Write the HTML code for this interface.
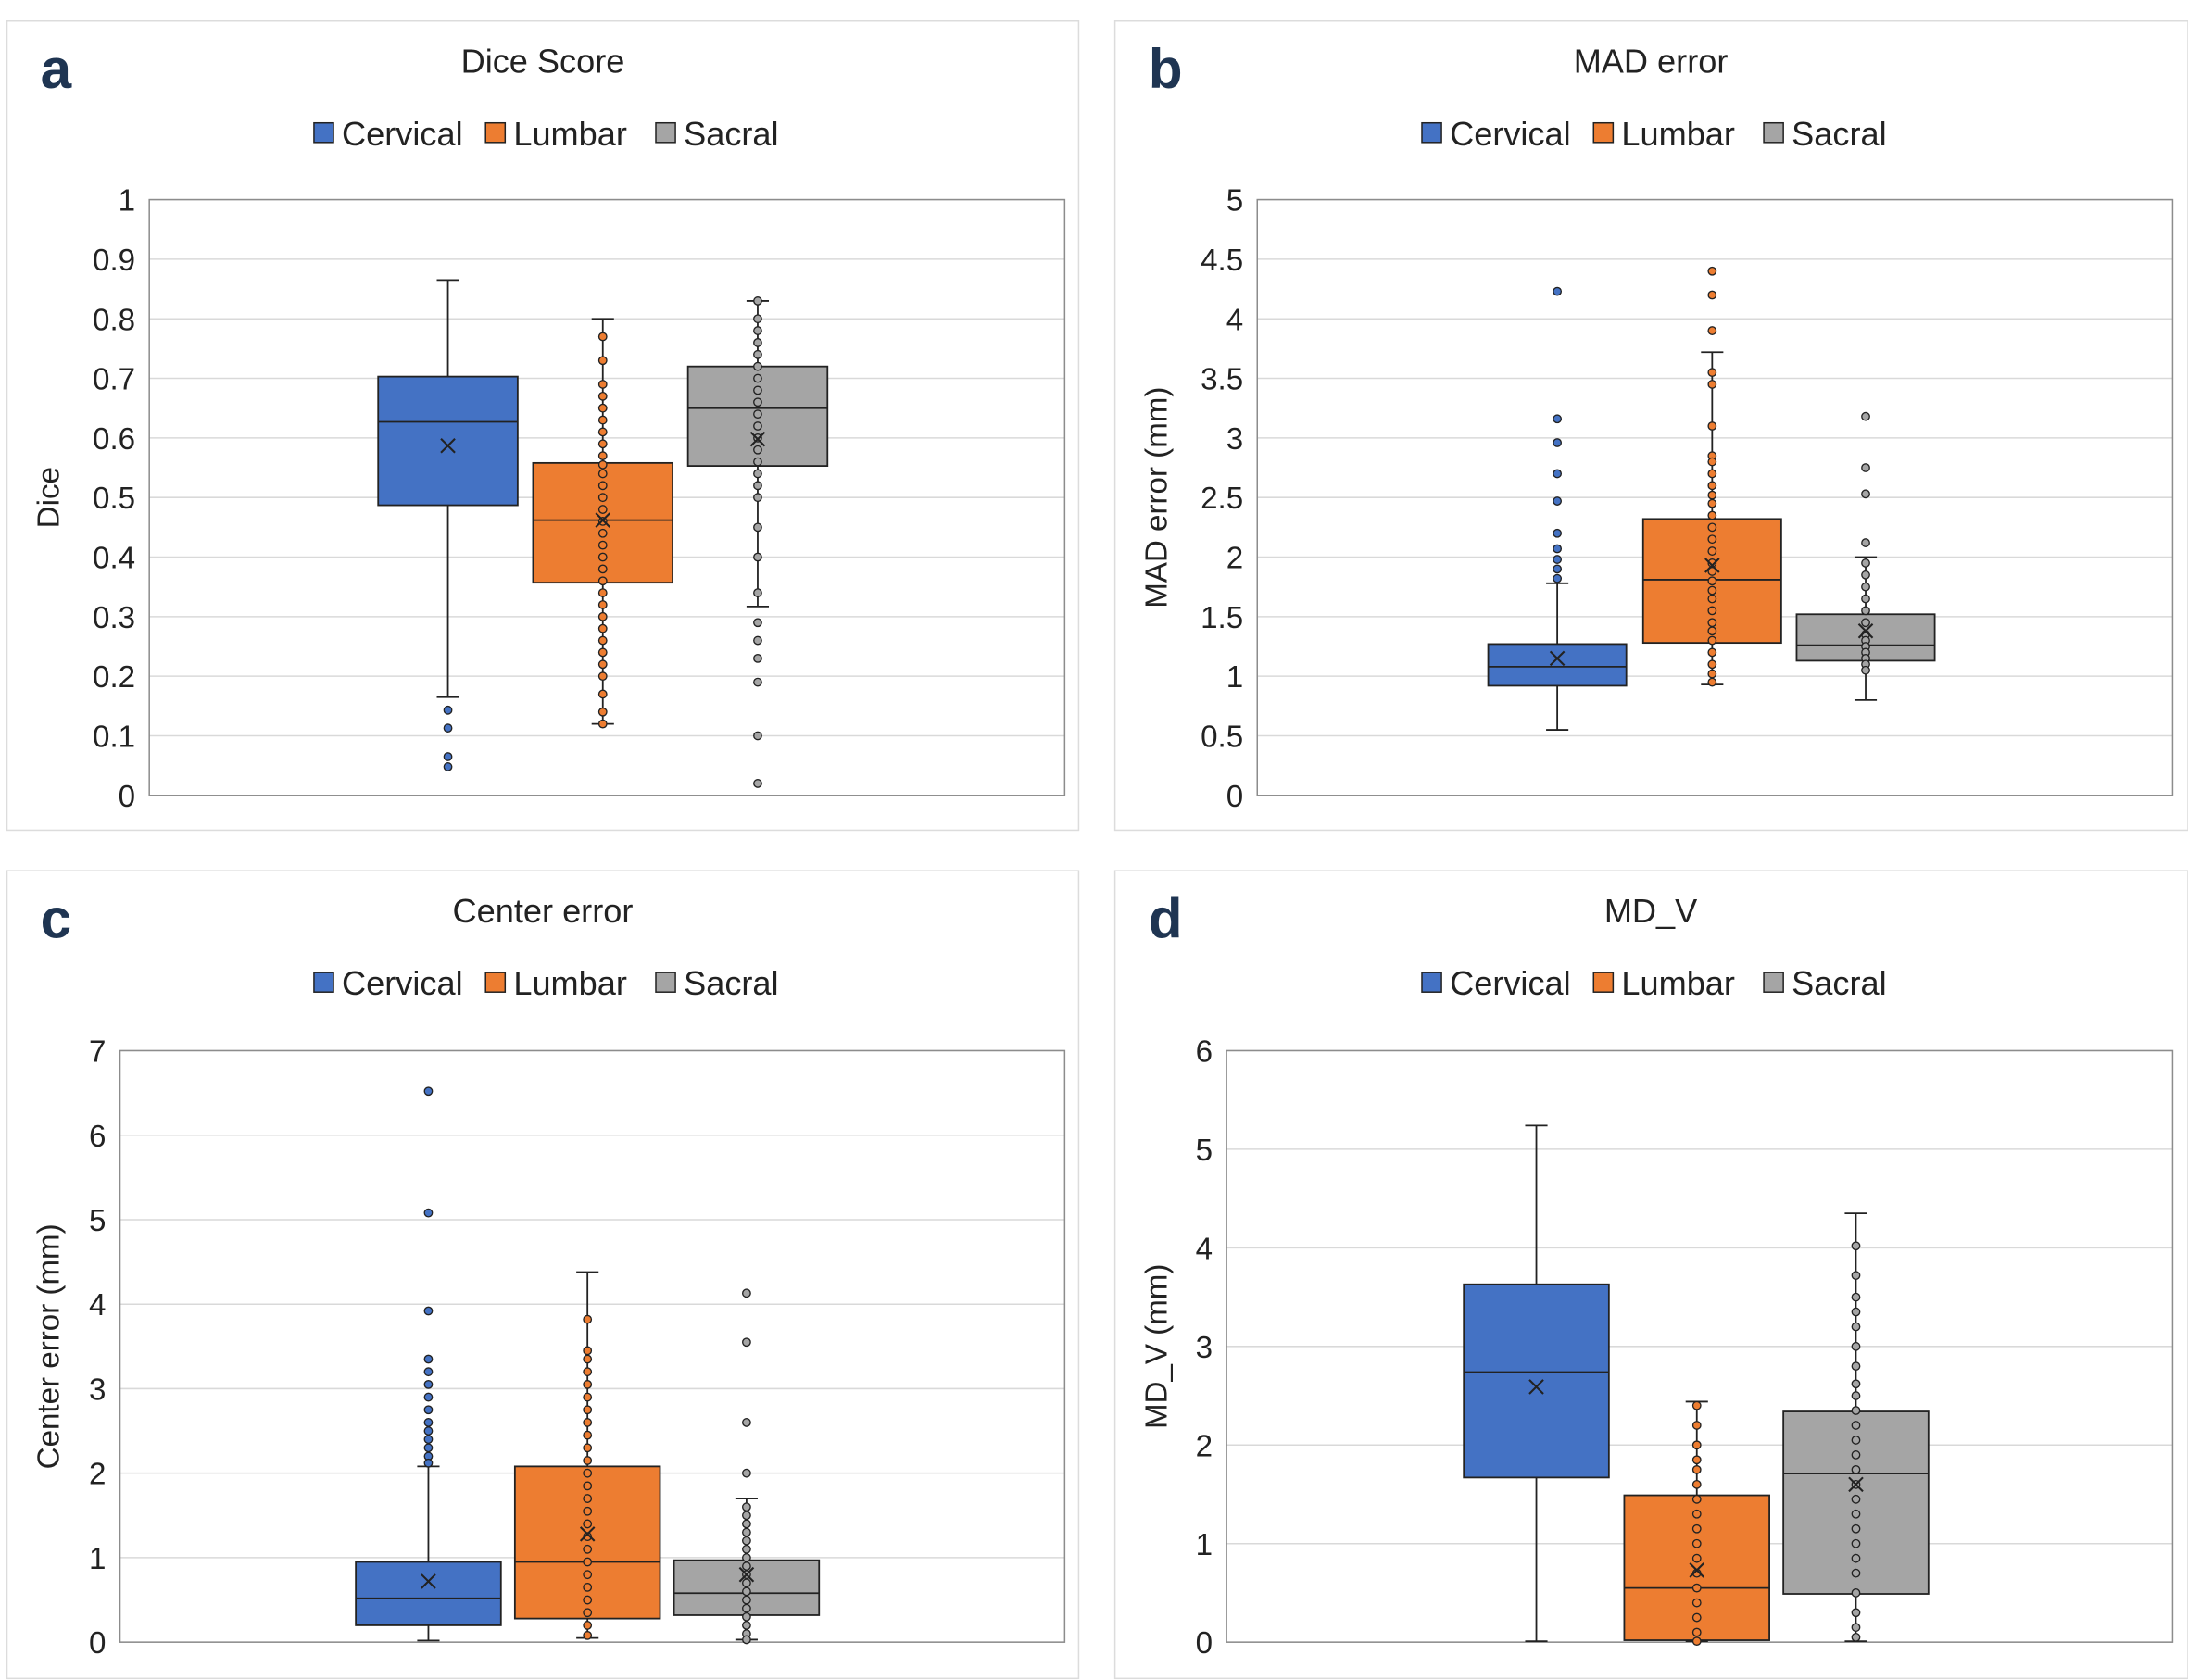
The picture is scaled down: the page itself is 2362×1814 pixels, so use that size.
<!DOCTYPE html>
<html><head><meta charset="utf-8"><style>
html,body{margin:0;padding:0;background:#fff}
svg{display:block}
text{font-family:"Liberation Sans",sans-serif;fill:#222}
</style></head><body>
<svg id="chart" width="2362" height="1814" viewBox="0 0 1568 1204" xmlns="http://www.w3.org/2000/svg"></svg>
<script>
const seriesNames = ["Cervical","Lumbar","Sacral"];
const seriesColors = ["#4472C4","#ED7D31","#A5A5A5"];
// panel a: Dice
const diceStats = [
 {lo:0.165,q1:0.487,med:0.627,q3:0.703,hi:0.865,mean:0.587,pts:[0.143,0.113,0.065,0.048]},
 {lo:0.12,q1:0.357,med:0.462,q3:0.558,hi:0.80,mean:0.462,pts:[0.77,0.73,0.69,0.67,0.65,0.63,0.61,0.59,0.57,0.555,0.54,0.52,0.50,0.48,0.46,0.44,0.42,0.40,0.38,0.36,0.34,0.32,0.30,0.28,0.26,0.24,0.22,0.20,0.17,0.14,0.12]},
 {lo:0.317,q1:0.553,med:0.650,q3:0.720,hi:0.83,mean:0.598,pts:[0.83,0.80,0.78,0.76,0.74,0.72,0.70,0.68,0.66,0.64,0.62,0.60,0.58,0.56,0.54,0.52,0.50,0.45,0.40,0.34,0.29,0.26,0.23,0.19,0.10,0.02]}
];
const madStats = [
 {lo:0.55,q1:0.92,med:1.08,q3:1.27,hi:1.78,mean:1.15,pts:[4.23,3.16,2.96,2.7,2.47,2.2,2.07,1.98,1.9,1.82]},
 {lo:0.93,q1:1.28,med:1.81,q3:2.32,hi:3.72,mean:1.93,pts:[4.4,4.2,3.9,3.55,3.45,3.1,2.85,2.8,2.7,2.6,2.52,2.45,2.35,2.25,2.15,2.05,1.95,1.88,1.8,1.72,1.65,1.55,1.45,1.38,1.3,1.2,1.1,1.02,0.95]},
 {lo:0.8,q1:1.13,med:1.26,q3:1.52,hi:2.0,mean:1.38,pts:[3.18,2.75,2.53,2.12,1.95,1.85,1.75,1.65,1.55,1.45,1.35,1.3,1.25,1.2,1.15,1.1,1.05]}
];
const centerStats = [
 {lo:0.02,q1:0.2,med:0.52,q3:0.95,hi:2.08,mean:0.72,pts:[6.52,5.08,3.92,3.35,3.2,3.05,2.9,2.75,2.6,2.5,2.4,2.3,2.2,2.12]},
 {lo:0.05,q1:0.28,med:0.95,q3:2.08,hi:4.38,mean:1.28,pts:[3.82,3.45,3.35,3.2,3.05,2.9,2.75,2.6,2.45,2.3,2.15,2.0,1.85,1.7,1.55,1.4,1.25,1.1,0.95,0.8,0.65,0.5,0.35,0.2,0.08]},
 {lo:0.03,q1:0.32,med:0.58,q3:0.97,hi:1.7,mean:0.8,pts:[4.13,3.55,2.6,2.0,1.6,1.5,1.4,1.3,1.2,1.1,1.0,0.9,0.8,0.7,0.6,0.5,0.4,0.3,0.2,0.1,0.03]}
];
const mdvStats = [
 {lo:0.01,q1:1.67,med:2.74,q3:3.63,hi:5.24,mean:2.59,pts:[]},
 {lo:0.01,q1:0.02,med:0.55,q3:1.49,hi:2.44,mean:0.73,pts:[2.4,2.2,2.0,1.85,1.75,1.6,1.45,1.3,1.15,1.0,0.85,0.7,0.55,0.4,0.25,0.1,0.01]},
 {lo:0.01,q1:0.49,med:1.71,q3:2.34,hi:4.35,mean:1.6,pts:[4.02,3.72,3.5,3.35,3.2,3.0,2.8,2.62,2.5,2.35,2.2,2.05,1.9,1.75,1.6,1.45,1.3,1.15,1.0,0.85,0.7,0.5,0.3,0.15,0.05]}
];
const diceTicks = ["0","0.1","0.2","0.3","0.4","0.5","0.6","0.7","0.8","0.9","1"];
const madTicks = ["0","0.5","1","1.5","2","2.5","3","3.5","4","4.5","5"];
const centerTicks = ["0","1","2","3","4","5","6","7"];
const mdvTicks = ["0","1","2","3","4","5","6"];

const svg = document.getElementById('chart');
const NS = "http://www.w3.org/2000/svg";
function mk(tag, attrs, parent){const e=document.createElementNS(NS,tag);for(const k in attrs)e.setAttribute(k,attrs[k]);(parent||svg).appendChild(e);return e;}

const panels = [
 {id:"a",title:"Dice Score",ylab:"Dice",stats:diceStats,ticks:diceTicks,max:1,box:[5,15,768,580],plot:[107,143,763,570],centers:[321,432,543],bw:100},
 {id:"b",title:"MAD error",ylab:"MAD error (mm)",stats:madStats,ticks:madTicks,max:5,box:[799,15,769,580],plot:[901,143,1557,570],centers:[1116,1227,1337],bw:99},
 {id:"c",title:"Center error",ylab:"Center error (mm)",stats:centerStats,ticks:centerTicks,max:7,box:[5,624,768,579],plot:[86,753,763,1177],centers:[307,421,535],bw:104},
 {id:"d",title:"MD_V",ylab:"MD_V (mm)",stats:mdvStats,ticks:mdvTicks,max:6,box:[799,624,769,579],plot:[879,753,1557,1177],centers:[1101,1216,1330],bw:104}
];

panels.forEach(p=>{
 const g = mk('g',{});
 
 
 const [bx,by,bwid,bh]=p.box;
 mk('rect',{x:bx,y:by,width:bwid,height:bh,fill:"#fff",stroke:"#dcdcdc","stroke-width":1},g);
 const L=mk('text',{x:bx+24,y:by+48,"font-size":40,"font-weight":"bold",style:"fill:#1f3552"},g);L.textContent=p.id;
 
 
 const cx=bx+bwid/2-(p.id==="b"||p.id==="d"?-1:-1);
 const t=mk('text',{x:bx+384,y:by+37,"font-size":24,"text-anchor":"middle"},g);t.textContent=p.title;
 
 
 // legend
 const lx=[bx+220,bx+343,bx+465];
 seriesNames.forEach((n,i)=>{
  const lg=mk('g',{},g);
  
  
  mk('rect',{x:lx[i],y:by+73,width:14,height:14,fill:seriesColors[i],stroke:"#222","stroke-width":1},lg);
  const tt=mk('text',{x:lx[i]+20,y:by+89,"font-size":24},lg);tt.textContent=n;
 });
 const [x0,y0,x1,y1]=p.plot;
 const Y=v=>y1-(v/p.max)*(y1-y0);
 // grid & ticks
 p.ticks.forEach((tk,i)=>{
  const v=i*p.max/(p.ticks.length-1);
  const gl=mk('line',{x1:x0,x2:x1,y1:Y(v),y2:Y(v),stroke:"#d9d9d9","stroke-width":1},g);
  
  
  const tl=mk('text',{x:x0-10,y:Y(v)+8,"font-size":22,"text-anchor":"end"},g);tl.textContent=tk;
  
  
 });
 mk('rect',{x:x0,y:y0,width:x1-x0,height:y1-y0,fill:"none",stroke:"#8c8c8c","stroke-width":1},g);
 const yl=mk('text',{x:0,y:0,"font-size":22,"text-anchor":"middle",transform:`translate(${bx+37},${(y0+y1)/2}) rotate(-90)`},g);yl.textContent=p.ylab;
 
 
 // boxes
 p.stats.forEach((s,i)=>{
  const c=p.centers[i], w=p.bw;
  const bg=mk('g',{},g);
  
  
  mk('line',{x1:c,x2:c,y1:Y(s.hi),y2:Y(s.q3),stroke:"#222","stroke-width":1.2},bg);
  mk('line',{x1:c,x2:c,y1:Y(s.q1),y2:Y(s.lo),stroke:"#222","stroke-width":1.2},bg);
  mk('line',{x1:c-8,x2:c+8,y1:Y(s.hi),y2:Y(s.hi),stroke:"#222","stroke-width":1.2},bg);
  mk('line',{x1:c-8,x2:c+8,y1:Y(s.lo),y2:Y(s.lo),stroke:"#222","stroke-width":1.2},bg);
  mk('rect',{x:c-w/2,y:Y(s.q3),width:w,height:Y(s.q1)-Y(s.q3),fill:seriesColors[i],stroke:"#222","stroke-width":1.2},bg);
  mk('line',{x1:c-w/2,x2:c+w/2,y1:Y(s.med),y2:Y(s.med),stroke:"#222","stroke-width":1.2},bg);
  s.pts.forEach(v=>{
   const d=mk('circle',{cx:c,cy:Y(v),r:2.8,fill:seriesColors[i],stroke:"#222","stroke-width":0.9},bg);
   
   
  });
  const my=Y(s.mean);
  mk('path',{d:`M${c-5},${my-5}L${c+5},${my+5}M${c-5},${my+5}L${c+5},${my-5}`,stroke:"#222","stroke-width":1.4,fill:"none"},bg);
 });
});
</script>
</body></html>
